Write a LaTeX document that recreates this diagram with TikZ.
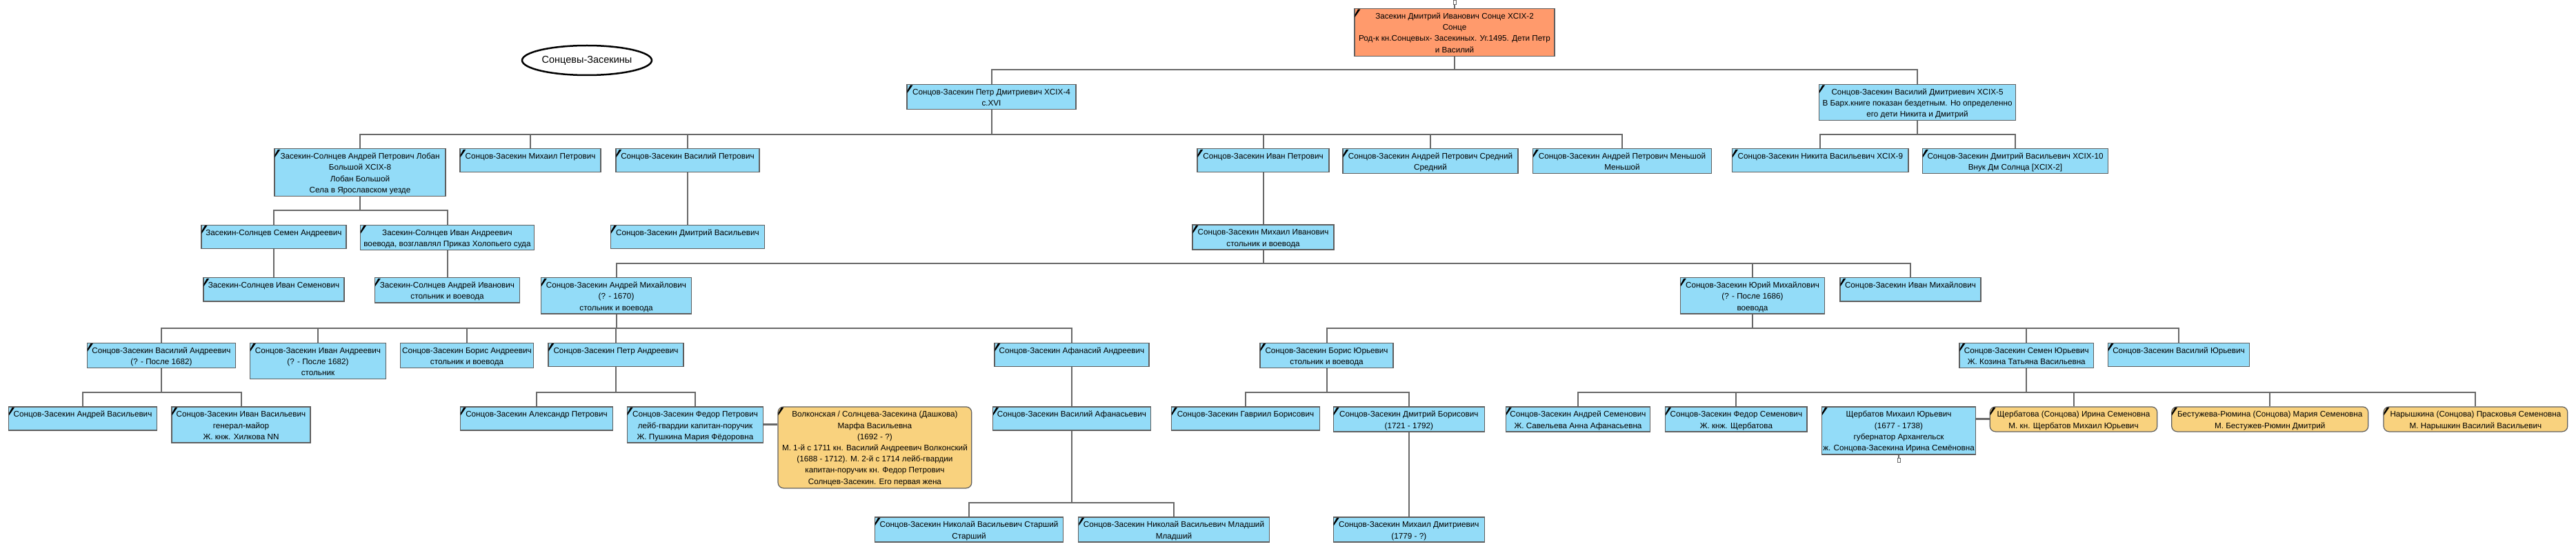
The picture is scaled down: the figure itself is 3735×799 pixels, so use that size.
\documentclass[tikz,border=0pt]{standalone}
\usepackage{fontspec}
\setmainfont{Liberation Sans}
\usetikzlibrary{shapes.geometric}
\definecolor{boxblue}{HTML}{93DCF8}
\definecolor{rootor}{HTML}{FF9A6C}
\definecolor{spouseor}{HTML}{F9D27E}
\definecolor{bordergray}{HTML}{5E5E5E}
\definecolor{linegray}{HTML}{686868}
\newcommand\Bbox[3]{\vbox to #2pt{\hsize=#1pt\relax\baselineskip=16.2pt\lineskiplimit=-20pt\lineskip=0pt\kern3.7pt #3\vss}}
\newcommand\Lline[1]{\hbox to\hsize{\hss\vrule height11.2pt depth5pt width0pt\relax #1\hss}}
\newcommand\Mark[1]{\fill ([shift={(1,13)}]#1.north west) -- ([shift={(1,9.5)}]#1.north west) -- ([shift={(5.5,1.5)}]#1.north west) -- ([shift={(9,1.5)}]#1.north west) -- cycle;}
\newcommand\Kid[2]{\draw[conn] (#1.south) |- ([yshift=20.5pt]#2.north) -- (#2.north);}
\tikzset{
  pbox/.style={draw=bordergray, line width=1.2pt, fill=boxblue, inner sep=0pt, anchor=north, font=\fontsize{11.7}{16.2}\selectfont},
  obox/.style={pbox, fill=rootor},
  sbox/.style={pbox, fill=spouseor, rounded corners=8pt},
  conn/.style={draw=linegray, line width=2pt},
  sconn/.style={draw=linegray, line width=3pt},
  expd/.style={draw=linegray, fill=white, line width=1pt, minimum width=4pt, minimum height=6pt, inner sep=0pt}
}
\begin{document}
\begin{tikzpicture}[x=1pt,y=-1pt]
\fill[white] (0,0) rectangle (3735,799);
\useasboundingbox (0,0) rectangle (3735,799);

\node[draw=black, ellipse, line width=2.5pt, minimum width=188pt, minimum height=43pt, inner sep=0pt, font=\fontsize{14.5}{16}\selectfont] (title) at (851,87.5) {Сонцевы-Засекины};

% level 1
\node[obox] (root) at (2109,12) {\Bbox{290}{69}{\Lline{Засекин Дмитрий Иванович Сонце XCIX-2}\Lline{Сонце}\Lline{Род-к кн.Сонцевых- Засекиных. Уг.1495. Дети Петр}\Lline{и Василий}}};
\node[expd] (topx) at (2109,3.7) {};
% level 2
\node[pbox] (petr) at (1437.5,122) {\Bbox{245}{36}{\Lline{Сонцов-Засекин Петр Дмитриевич XCIX-4}\Lline{с.XVI}}};
\node[pbox] (vasD) at (2780,122) {\Bbox{285}{52}{\Lline{Сонцов-Засекин Василий Дмитриевич XCIX-5}\Lline{В Барх.книге показан бездетным. Но определенно}\Lline{его дети Никита и Дмитрий}}};
% level 3
\node[pbox] (lobAn) at (522,215.3) {\Bbox{248}{69}{\Lline{Засекин-Солнцев Андрей Петрович Лобан}\Lline{Большой XCIX-8}\Lline{Лобан Большой}\Lline{Села в Ярославском уезде}}};
\node[pbox] (mikhP) at (769,215.3) {\Bbox{204}{34}{\Lline{Сонцов-Засекин Михаил Петрович}}};
\node[pbox] (vasP) at (997,215.3) {\Bbox{208}{34}{\Lline{Сонцов-Засекин Василий Петрович}}};
\node[pbox] (ivanP) at (1831.5,215.3) {\Bbox{191}{34}{\Lline{Сонцов-Засекин Иван Петрович}}};
\node[pbox] (andrS) at (2074,215.3) {\Bbox{254}{36}{\Lline{Сонцов-Засекин Андрей Петрович Средний}\Lline{Средний}}};
\node[pbox] (andrMn) at (2352,215.3) {\Bbox{259}{36}{\Lline{Сонцов-Засекин Андрей Петрович Меньшой}\Lline{Меньшой}}};
\node[pbox] (nikita) at (2639.3,215.3) {\Bbox{255.4}{34}{\Lline{Сонцов-Засекин Никита Васильевич XCIX-9}}};
\node[pbox] (dmVasT) at (2922,215.3) {\Bbox{269}{36}{\Lline{Сонцов-Засекин Дмитрий Васильевич XCIX-10}\Lline{Внук Дм Солнца [XCIX-2]}}};
% level 4
\node[pbox] (semA) at (397,325.7) {\Bbox{210}{34}{\Lline{Засекин-Солнцев Семен Андреевич}}};
\node[pbox] (ivanAZ) at (648.5,325.7) {\Bbox{252}{36}{\Lline{Засекин-Солнцев Иван Андреевич}\Lline{воевода, возглавлял Приказ Холопьего суда}}};
\node[pbox] (dmVasP) at (997,325.7) {\Bbox{223}{34}{\Lline{Сонцов-Засекин Дмитрий Васильевич}}};
\node[pbox] (mikhI) at (1831.5,325.5) {\Bbox{205}{36}{\Lline{Сонцов-Засекин Михаил Иванович}\Lline{стольник и воевода}}};
% level 5
\node[pbox] (ivanS) at (397,402.3) {\Bbox{204}{34}{\Lline{Засекин-Солнцев Иван Семенович}}};
\node[pbox] (andrI) at (648.5,402.3) {\Bbox{210}{36}{\Lline{Засекин-Солнцев Андрей Иванович}\Lline{стольник и воевода}}};
\node[pbox] (andrMikh) at (893.5,402.3) {\Bbox{218}{52}{\Lline{Сонцов-Засекин Андрей Михайлович}\Lline{(? - 1670)}\Lline{стольник и воевода}}};
\node[pbox] (yuri) at (2541,402.3) {\Bbox{209}{52}{\Lline{Сонцов-Засекин Юрий Михайлович}\Lline{(? - После 1686)}\Lline{воевода}}};
\node[pbox] (ivanMikh) at (2770,402.3) {\Bbox{204}{34}{\Lline{Сонцов-Засекин Иван Михайлович}}};
% level 6
\node[pbox] (vasAndr) at (234,496.5) {\Bbox{215}{36}{\Lline{Сонцов-Засекин Василий Андреевич}\Lline{(? - После 1682)}}};
\node[pbox] (ivanAndr) at (461,496.5) {\Bbox{197}{52}{\Lline{Сонцов-Засекин Иван Андреевич}\Lline{(? - После 1682)}\Lline{стольник}}};
\node[pbox] (borisAndr) at (677,496.5) {\Bbox{193}{36}{\Lline{Сонцов-Засекин Борис Андреевич}\Lline{стольник и воевода}}};
\node[pbox] (petrAndr) at (893,496.5) {\Bbox{196}{34}{\Lline{Сонцов-Засекин Петр Андреевич}}};
\node[pbox] (afan) at (1554,496.5) {\Bbox{224}{34}{\Lline{Сонцов-Засекин Афанасий Андреевич}}};
\node[pbox] (borisYu) at (1923.5,496.5) {\Bbox{193}{36}{\Lline{Сонцов-Засекин Борис Юрьевич}\Lline{стольник и воевода}}};
\node[pbox] (semYu) at (2938.3,496.5) {\Bbox{194.5}{36}{\Lline{Сонцов-Засекин Семен Юрьевич}\Lline{Ж. Козина Татьяна Васильевна}}};
\node[pbox] (vasYu) at (3159,496.5) {\Bbox{205.6}{34}{\Lline{Сонцов-Засекин Василий Юрьевич}}};
% level 7
\node[pbox] (andrVas) at (120,589.3) {\Bbox{214.5}{34}{\Lline{Сонцов-Засекин Андрей Васильевич}}};
\node[pbox] (ivanVas) at (349.5,589.3) {\Bbox{201}{52}{\Lline{Сонцов-Засекин Иван Васильевич}\Lline{генерал-майор}\Lline{Ж. кнж. Хилкова NN}}};
\node[pbox] (alexP) at (778,589.3) {\Bbox{221}{34}{\Lline{Сонцов-Засекин Александр Петрович}}};
\node[pbox] (fedorP) at (1008,589.3) {\Bbox{197.4}{52}{\Lline{Сонцов-Засекин Федор Петрович}\Lline{лейб-гвардии капитан-поручик}\Lline{Ж. Пушкина Мария Фёдоровна}}};
\node[sbox] (volk) at (1268.4,589.3) {\Bbox{280.7}{118}{\Lline{Волконская / Солнцева-Засекина (Дашкова)}\Lline{Марфа Васильевна}\Lline{(1692 - ?)}\Lline{М. 1-й с 1711 кн. Василий Андреевич Волконский}\Lline{(1688 - 1712). М. 2-й с 1714 лейб-гвардии}\Lline{капитан-поручик кн. Федор Петрович}\Lline{Солнцев-Засекин. Его первая жена}}};
\node[pbox] (vasAfan) at (1554,589.3) {\Bbox{228.7}{34}{\Lline{Сонцов-Засекин Василий Афанасьевич}}};
\node[pbox] (gavr) at (1806,589.3) {\Bbox{214.8}{34}{\Lline{Сонцов-Засекин Гавриил Борисович}}};
\node[pbox] (dmBor) at (2042.8,589.3) {\Bbox{219}{36}{\Lline{Сонцов-Засекин Дмитрий Борисович}\Lline{(1721 - 1792)}}};
\node[pbox] (andrSem) at (2288,589.3) {\Bbox{209.2}{36}{\Lline{Сонцов-Засекин Андрей Семенович}\Lline{Ж. Савельева Анна Афанасьевна}}};
\node[pbox] (fedSem) at (2517.4,589.3) {\Bbox{205.2}{36}{\Lline{Сонцов-Засекин Федор Семенович}\Lline{Ж. кнж. Щербатова}}};
\node[pbox] (shcherb) at (2753,589.3) {\Bbox{223.3}{69}{\Lline{Щербатов Михаил Юрьевич}\Lline{(1677 - 1738)}\Lline{губернатор Архангельск}\Lline{ж. Сонцова-Засекина Ирина Семёновна}}};
\node[expd] (botx) at (2753,667.7) {};
\node[sbox] (irina) at (3006.5,589.3) {\Bbox{242.6}{36}{\Lline{Щербатова (Сонцова) Ирина Семеновна}\Lline{М. кн. Щербатов Михаил Юрьевич}}};
\node[sbox] (maria) at (3291.2,589.3) {\Bbox{285}{36}{\Lline{Бестужева-Рюмина (Сонцова) Мария Семеновна}\Lline{М. Бестужев-Рюмин Дмитрий}}};
\node[sbox] (prask) at (3589.4,589.3) {\Bbox{266.8}{36}{\Lline{Нарышкина (Сонцова) Прасковья Семеновна}\Lline{М. Нарышкин Василий Васильевич}}};
% level 8
\node[pbox] (nikSt) at (1405,749.3) {\Bbox{273.6}{36}{\Lline{Сонцов-Засекин Николай Васильевич Старший}\Lline{Старший}}};
\node[pbox] (nikMl) at (1702,749.3) {\Bbox{276.3}{36}{\Lline{Сонцов-Засекин Николай Васильевич Младший}\Lline{Младший}}};
\node[pbox] (mikhD) at (2042.8,749.3) {\Bbox{219}{36}{\Lline{Сонцов-Засекин Михаил Дмитриевич}\Lline{(1779 - ?)}}};

% connectors
\draw[conn, line width=1.5pt] (root.north) -- (topx.south);
\draw[conn, line width=1.5pt] (shcherb.south) -- (botx.north);
\Kid{root}{petr}\Kid{root}{vasD}
\Kid{petr}{lobAn}\Kid{petr}{mikhP}\Kid{petr}{vasP}\Kid{petr}{ivanP}\Kid{petr}{andrS}\Kid{petr}{andrMn}
\Kid{vasD}{nikita}\Kid{vasD}{dmVasT}
\Kid{lobAn}{semA}\Kid{lobAn}{ivanAZ}
\Kid{vasP}{dmVasP}
\Kid{ivanP}{mikhI}
\Kid{semA}{ivanS}
\Kid{ivanAZ}{andrI}
\Kid{mikhI}{andrMikh}\Kid{mikhI}{yuri}\Kid{mikhI}{ivanMikh}
\Kid{andrMikh}{vasAndr}\Kid{andrMikh}{ivanAndr}\Kid{andrMikh}{borisAndr}\Kid{andrMikh}{petrAndr}\Kid{andrMikh}{afan}
\Kid{yuri}{borisYu}\Kid{yuri}{semYu}\Kid{yuri}{vasYu}
\Kid{vasAndr}{andrVas}\Kid{vasAndr}{ivanVas}
\Kid{petrAndr}{alexP}\Kid{petrAndr}{fedorP}
\Kid{afan}{vasAfan}
\Kid{borisYu}{gavr}\Kid{borisYu}{dmBor}
\Kid{semYu}{andrSem}\Kid{semYu}{fedSem}\Kid{semYu}{irina}\Kid{semYu}{maria}\Kid{semYu}{prask}
\Kid{vasAfan}{nikSt}\Kid{vasAfan}{nikMl}
\Kid{dmBor}{mikhD}
\draw[sconn] (fedorP.east) -- (fedorP.east -| volk.west);
\draw[sconn] (irina.west) -- (irina.west -| shcherb.east);

% corner marks
\foreach \n in {root,petr,vasD,lobAn,mikhP,vasP,ivanP,andrS,andrMn,nikita,dmVasT,semA,ivanAZ,dmVasP,mikhI,ivanS,andrI,andrMikh,yuri,ivanMikh,vasAndr,ivanAndr,petrAndr,afan,borisYu,semYu,vasYu,andrVas,ivanVas,alexP,fedorP,volk,vasAfan,gavr,dmBor,andrSem,fedSem,shcherb,irina,maria,prask,nikSt,nikMl,mikhD}{\Mark{\n}}
\end{tikzpicture}
\end{document}
